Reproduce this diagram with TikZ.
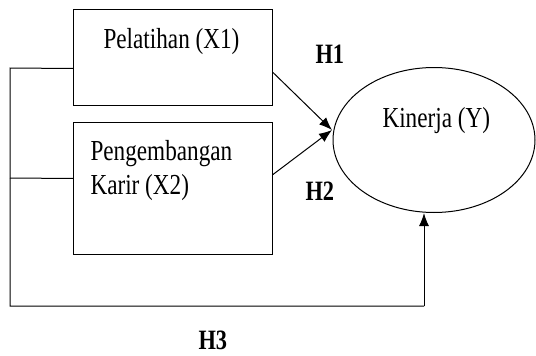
\documentclass[tikz,border=0pt]{standalone}
\usepackage{fontspec}
\usetikzlibrary{arrows.meta,shapes.geometric}
\newfontfamily\rf[FakeStretch=0.8]{Liberation Serif}
\begin{document}
\begin{tikzpicture}[x=1pt,y=-1pt,line width=1pt,
  boxnode/.style={draw,rectangle,inner sep=0pt,anchor=north west},
  txt/.style={anchor=base west,inner sep=0pt,font=\rf\fontsize{29}{34}\selectfont},
  hlab/.style={anchor=base west,inner sep=0pt,font=\rf\bfseries\fontsize{28}{32}\selectfont},
  arr/.style={-{Latex[length=13pt,width=10pt]}}]
\useasboundingbox (0,0) rectangle (536,356);
\node[boxnode,minimum width=199pt,minimum height=96pt] (b1) at (73,9) {};
\node[boxnode,minimum width=199pt,minimum height=132pt] (b2) at (73,122) {};
\node[draw,ellipse,inner sep=0pt,minimum width=202pt,minimum height=145pt] (k) at (434,140) {};
\node[txt] (t1) at (103,48) {Pelatihan (X1)};
\node[txt] (t2) at (90,160) {Pengembangan};
\node[txt] (t3) at (90,194) {Karir (X2)};
\node[txt] (t4) at (382,127) {Kinerja (Y)};
\node[hlab] (h1) at (315,63) {H1};
\node[hlab] (h2) at (305,200) {H2};
\node[hlab] (h3) at (198,349) {H3};
\coordinate (tip) at (332,130);
\coordinate (c1) at (10,68);
\coordinate (c2) at (10,178);
\coordinate (c3) at (10,306);
\coordinate (c4) at (424,306);
\draw[arr] ([yshift=-15pt]b1.east) -- (tip);
\draw[arr] ([yshift=14pt]b2.east) -- (tip);
\draw ([yshift=-11pt]b1.west) -- (c1) -- (c3) -- (c4);
\draw ([yshift=10pt]b2.west) -- (c2);
\draw[arr] (c4) -- ([xshift=-10pt]k.south);
\end{tikzpicture}
\end{document}
